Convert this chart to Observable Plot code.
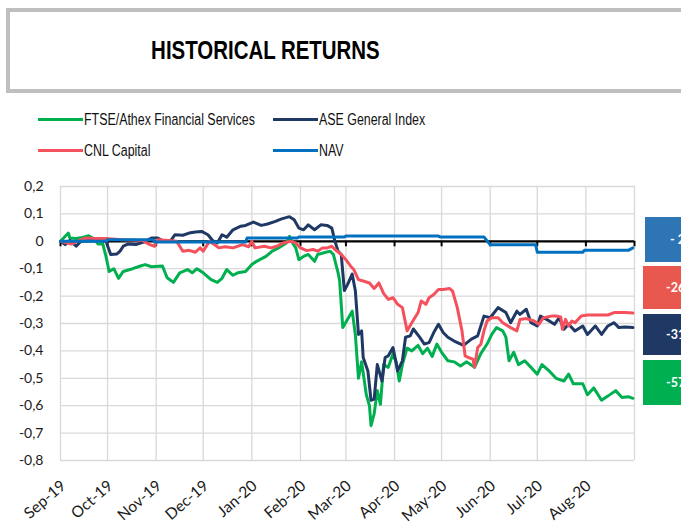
<!DOCTYPE html>
<html>
<head>
<meta charset="utf-8">
<script src="https://cdn.jsdelivr.net/npm/d3@7"></script>
<script src="https://cdn.jsdelivr.net/npm/@observablehq/plot@0.6"></script>
<style>
  html, body { margin: 0; padding: 0; background: #fff; }
  body { width: 681px; height: 523px; overflow: hidden; position: relative; }
  #head { position: relative; height: 170px; }
  #titlebox { position: absolute; left: 6px; top: 8px; width: 760px; height: 85px; box-sizing: border-box; border: 4px solid #bfbfbf; }
  #title { position: absolute; left: 0; width: 530px; top: 35px; text-align: center; font-family: "Liberation Sans", Arial, sans-serif; font-weight: bold; font-size: 26px; line-height: 30px; color: #000; }
  #title span { display: inline-block; transform: scaleX(0.786); transform-origin: center; }
  .lg-line { position: absolute; width: 45px; height: 3px; }
  .lg-text { position: absolute; font-family: "Liberation Sans", Arial, sans-serif; font-size: 16px; line-height: 18px; color: #111; white-space: nowrap; transform: scaleX(0.775); transform-origin: left center; }
  .box { position: absolute; width: 70px; box-sizing: border-box; color: #fff; font-family: Lato, "Open Sans", sans-serif; font-weight: bold; font-size: 12.5px; display: flex; align-items: center; white-space: nowrap; }
  #chart svg { display: block; }
</style>
</head>
<body>
<div id="head">
  <div id="titlebox"></div>
  <div id="title"><span>HISTORICAL RETURNS</span></div>
  <div id="legend"></div>
</div>
<div id="chart"></div>
<div id="boxes"></div>
<script>
// ---------- data ----------
const seriesNames = ["FTSE/Athex Financial Services", "ASE General Index", "CNL Capital", "NAV"];
const seriesColors = ["#00b050", "#203864", "#f4515c", "#0070c0"];

const ftseDates = ["2019-09-01","2019-09-06","2019-09-07","2019-09-11","2019-09-15","2019-09-19","2019-09-22","2019-09-25","2019-09-28","2019-09-30",
"2019-10-02","2019-10-05","2019-10-08","2019-10-11","2019-10-17","2019-10-22","2019-10-25","2019-10-29",
"2019-11-05","2019-11-08","2019-11-12","2019-11-16","2019-11-21","2019-11-24","2019-11-27",
"2019-12-01","2019-12-06","2019-12-10","2019-12-13","2019-12-16","2019-12-20","2019-12-23","2019-12-28",
"2020-01-01","2020-01-04","2020-01-10","2020-01-14","2020-01-18","2020-01-23","2020-01-25","2020-01-27","2020-01-29","2020-01-31",
"2020-02-03","2020-02-06","2020-02-10","2020-02-12","2020-02-16","2020-02-20","2020-02-22","2020-02-25","2020-02-26","2020-02-28",
"2020-03-02","2020-03-05","2020-03-07","2020-03-09","2020-03-11","2020-03-14","2020-03-16","2020-03-17","2020-03-19","2020-03-21","2020-03-23","2020-03-25","2020-03-28","2020-03-31",
"2020-04-02","2020-04-04","2020-04-06","2020-04-09","2020-04-12","2020-04-16","2020-04-19","2020-04-22","2020-04-25","2020-04-28",
"2020-05-01","2020-05-05","2020-05-09","2020-05-13","2020-05-17","2020-05-22","2020-05-26","2020-05-30",
"2020-06-02","2020-06-05","2020-06-09","2020-06-11","2020-06-13","2020-06-16","2020-06-19","2020-06-23","2020-06-27",
"2020-07-01","2020-07-04","2020-07-08","2020-07-13","2020-07-18","2020-07-21","2020-07-24","2020-07-30",
"2020-08-02","2020-08-06","2020-08-11","2020-08-15","2020-08-20","2020-08-24","2020-08-28","2020-08-31"];
const ftseValues = [0, 0.03, 0.012, 0.01, 0.014, 0.02, 0.01, -0.01, -0.01, -0.055,
-0.11, -0.10, -0.135, -0.11, -0.10, -0.09, -0.085, -0.093,
-0.09, -0.133, -0.15, -0.115, -0.103, -0.115, -0.10,
-0.115, -0.14, -0.15, -0.135, -0.103, -0.124, -0.115, -0.11,
-0.085, -0.073, -0.055, -0.036, -0.024, -0.006, 0.018, -0.006, -0.024, -0.067,
-0.055, -0.048, -0.073, -0.048, -0.042, -0.036, -0.048, -0.115, -0.145, -0.315,
-0.285, -0.255, -0.34, -0.50, -0.44, -0.56, -0.60, -0.673, -0.63, -0.545, -0.595, -0.45, -0.46, -0.41,
-0.44, -0.51, -0.45, -0.39, -0.40, -0.38, -0.41, -0.39, -0.42, -0.375,
-0.405, -0.436, -0.44, -0.455, -0.44, -0.46, -0.41, -0.375,
-0.34, -0.315, -0.327, -0.35, -0.436, -0.405, -0.45, -0.436, -0.46,
-0.485, -0.45, -0.47, -0.50, -0.51, -0.485, -0.52, -0.52,
-0.56, -0.535, -0.58, -0.565, -0.545, -0.57, -0.567, -0.573];

const aseDates = ["2019-09-01","2019-09-04","2019-09-07","2019-09-11","2019-09-14","2019-09-19","2019-09-25","2019-09-30",
"2019-10-03","2019-10-07","2019-10-09","2019-10-11","2019-10-14","2019-10-19","2019-10-24","2019-10-29",
"2019-11-02","2019-11-05","2019-11-10","2019-11-13","2019-11-18","2019-11-22","2019-11-26","2019-11-30",
"2019-12-04","2019-12-07","2019-12-10","2019-12-13","2019-12-16","2019-12-20","2019-12-25","2019-12-28",
"2020-01-02","2020-01-07","2020-01-11","2020-01-16","2020-01-20","2020-01-25","2020-01-28","2020-01-31",
"2020-02-03","2020-02-06","2020-02-10","2020-02-14","2020-02-18","2020-02-21","2020-02-23","2020-02-25","2020-02-27","2020-02-29",
"2020-03-02","2020-03-05","2020-03-07","2020-03-09","2020-03-11","2020-03-12","2020-03-15","2020-03-17","2020-03-19","2020-03-21","2020-03-24","2020-03-26","2020-03-28","2020-03-31",
"2020-04-03","2020-04-06","2020-04-08","2020-04-11","2020-04-13","2020-04-17","2020-04-20","2020-04-23","2020-04-26","2020-04-29",
"2020-05-02","2020-05-05","2020-05-09","2020-05-15","2020-05-20","2020-05-24","2020-05-28",
"2020-06-01","2020-06-06","2020-06-11","2020-06-14","2020-06-18","2020-06-20","2020-06-24","2020-06-27",
"2020-07-01","2020-07-03","2020-07-07","2020-07-12","2020-07-15","2020-07-18","2020-07-21","2020-07-25","2020-07-30",
"2020-08-02","2020-08-07","2020-08-11","2020-08-15","2020-08-19","2020-08-22","2020-08-26","2020-08-31"];
const aseValues = [0, -0.012, 0.003, -0.018, 0, 0.003, 0.003, 0,
-0.048, -0.046, -0.036, -0.018, -0.01, -0.012, -0.003, 0.012,
0.012, 0.003, 0, 0.024, 0.022, 0.03, 0.034, 0.036,
0.024, 0.003, -0.006, 0.024, 0.015, 0.042, 0.055, 0.058,
0.07, 0.058, 0.063, 0.073, 0.082, 0.09, 0.079, 0.048,
0.042, 0.06, 0.042, 0.06, 0.058, 0.048, 0, -0.036, -0.048, -0.18,
-0.158, -0.12, -0.18, -0.34, -0.327, -0.424, -0.473, -0.58, -0.576, -0.45, -0.51, -0.424, -0.418, -0.388,
-0.473, -0.436, -0.35, -0.345, -0.32, -0.35, -0.375, -0.37, -0.333, -0.303,
-0.333, -0.35, -0.364, -0.38, -0.357, -0.345, -0.273,
-0.279, -0.242, -0.26, -0.297, -0.255, -0.267, -0.248, -0.297,
-0.309, -0.273, -0.285, -0.303, -0.279, -0.321, -0.303, -0.327, -0.309,
-0.34, -0.309, -0.34, -0.309, -0.297, -0.315, -0.313, -0.315];

const cnlDates = ["2019-09-01","2019-09-08","2019-09-13","2019-09-17","2019-09-23","2019-09-30",
"2019-10-10","2019-10-23","2019-10-28","2019-10-31",
"2019-11-02","2019-11-09","2019-11-14","2019-11-18","2019-11-22","2019-11-26","2019-11-29",
"2019-12-01","2019-12-05","2019-12-08","2019-12-11","2019-12-15","2019-12-20","2019-12-26","2019-12-30",
"2020-01-01","2020-01-03","2020-01-09","2020-01-13","2020-01-17","2020-01-21","2020-01-26","2020-01-29",
"2020-02-01","2020-02-05","2020-02-09","2020-02-12","2020-02-15","2020-02-18","2020-02-21","2020-02-23","2020-02-27",
"2020-03-01","2020-03-04","2020-03-06","2020-03-09","2020-03-12","2020-03-16","2020-03-19","2020-03-22","2020-03-25","2020-03-28","2020-03-31",
"2020-04-03","2020-04-06","2020-04-09","2020-04-12","2020-04-16","2020-04-18","2020-04-21","2020-04-23","2020-04-26","2020-04-29",
"2020-05-02","2020-05-06","2020-05-08","2020-05-11","2020-05-14","2020-05-16","2020-05-18","2020-05-21","2020-05-22","2020-05-24","2020-05-26","2020-05-28","2020-05-30",
"2020-06-02","2020-06-06","2020-06-09","2020-06-14","2020-06-18","2020-06-20","2020-06-24","2020-06-29",
"2020-07-02","2020-07-05","2020-07-10","2020-07-13","2020-07-16","2020-07-17","2020-07-19","2020-07-21","2020-07-23","2020-07-25","2020-07-29",
"2020-08-02","2020-08-07","2020-08-15","2020-08-19","2020-08-26","2020-08-31"];
const cnlValues = [0, -0.01, 0.003, 0.012, 0.01, 0.01,
0.006, 0.003, -0.012, -0.018,
0.006, 0.003, 0, -0.036, -0.033, -0.04, -0.024,
-0.036, 0, -0.012, -0.024, -0.02, -0.024, -0.012, -0.02,
0, -0.024, -0.018, -0.024, -0.018, -0.006, 0, -0.006,
-0.024, -0.034, -0.03, -0.036, -0.024, -0.024, -0.018, -0.03, -0.048,
-0.067, -0.091, -0.103, -0.14, -0.145, -0.152, -0.172, -0.152, -0.19, -0.212, -0.206,
-0.23, -0.242, -0.327, -0.297, -0.26, -0.218, -0.23, -0.206, -0.194, -0.176,
-0.176, -0.172, -0.182, -0.242, -0.327, -0.418, -0.424, -0.43, -0.46, -0.388, -0.376, -0.327, -0.291,
-0.279, -0.279, -0.297, -0.315, -0.327, -0.285, -0.282, -0.291,
-0.303, -0.279, -0.273, -0.273, -0.276, -0.321, -0.285, -0.309, -0.291, -0.297, -0.273,
-0.269, -0.269, -0.269, -0.26, -0.26, -0.262];

const navDates = ["2019-09-01","2019-09-30","2019-10-01","2019-10-30","2019-10-31","2019-12-28","2019-12-29","2020-01-30","2020-01-31","2020-02-29","2020-03-01","2020-04-29","2020-04-30","2020-05-28","2020-06-01","2020-06-30","2020-07-01","2020-07-30","2020-07-31","2020-08-28","2020-08-31"];
const navValues = [0, 0, 0.006, 0.006, -0.003, -0.003, 0.012, 0.012, 0.016, 0.016, 0.019, 0.019, 0.016, 0.016, -0.013, -0.013, -0.04, -0.04, -0.033, -0.033, -0.024];

const monthStarts = ["2019-09-01","2019-10-01","2019-11-01","2019-12-01","2020-01-01","2020-02-01","2020-03-01","2020-04-01","2020-05-01","2020-06-01","2020-07-01","2020-08-01","2020-09-01"];
const xTickLabels = ["Sep-19","Oct-19","Nov-19","Dec-19","Jan-20","Feb-20","Mar-20","Apr-20","May-20","Jun-20","Jul-20","Aug-20"];
const yTicks = [0.2, 0.1, 0, -0.1, -0.2, -0.3, -0.4, -0.5, -0.6, -0.7, -0.8];
const yTickLabels = ["0,2", "0,1", "0", "-0,1", "-0,2", "-0,3", "-0,4", "-0,5", "-0,6", "-0,7", "-0,8"];

const boxLabels = ["- 2%", "-26%", "-31%", "-57%"];
const boxColors = ["#2e75b6", "#e8584e", "#1f3864", "#00b050"];

// ---------- build ----------
const parse = s => new Date(s + "T00:00:00Z");
const mk = (dates, vals, name) => dates.map((d, i) => ({date: parse(d), value: vals[i], series: name}));
const ftse = mk(ftseDates, ftseValues, seriesNames[0]);
const ase = mk(aseDates, aseValues, seriesNames[1]);
const cnl = mk(cnlDates, cnlValues, seriesNames[2]);
const nav = mk(navDates, navValues, seriesNames[3]);

const months = monthStarts.map(parse);
const xLabelMap = new Map(xTickLabels.map((l, i) => [+months[i], l]));
const yLabelMap = new Map(yTicks.map((t, i) => [t, yTickLabels[i]]));

// legend
const legend = document.getElementById("legend");
const lgPos = [[38, 119], [273, 119], [38, 150], [273, 150]];
seriesNames.forEach((name, i) => {
  const [lx, ly] = lgPos[i];
  const line = document.createElement("div");
  line.className = "lg-line";
  line.style.left = lx + "px"; line.style.top = (ly - 1.5) + "px";
  line.style.background = seriesColors[i];
  legend.appendChild(line);
  const t = document.createElement("div");
  t.className = "lg-text";
  t.style.left = (lx + 46) + "px"; t.style.top = (ly - 8) + "px";
  t.textContent = name;
  legend.appendChild(t);
});

const lineOpts = (i) => ({x: "date", y: "value", stroke: seriesColors[i], strokeWidth: 3, strokeLinejoin: "round", strokeLinecap: "round"});

const chart = Plot.plot({
  width: 681,
  height: 353,
  marginTop: 16,
  marginBottom: 63,
  marginLeft: 60,
  marginRight: 47,
  style: {fontFamily: "Lato, 'Open Sans', sans-serif", fontSize: "14px", color: "#1a1a1a", background: "transparent", overflow: "visible"},
  x: {type: "utc", domain: [months[0], months[months.length - 1]]},
  y: {domain: [-0.8, 0.2]},
  marks: [
    Plot.gridY(yTicks, {stroke: "#d9d9d9", strokeOpacity: 1, strokeWidth: 1.3}),
    Plot.gridX(months, {stroke: "#d9d9d9", strokeOpacity: 1, strokeWidth: 1.3}),
    Plot.axisY(yTicks, {tickSize: 0, tickPadding: 17, tickFormat: d => yLabelMap.get(d), fontSize: 14, label: null}),
    Plot.axisX(months.slice(0, 12), {tickSize: 0, tickPadding: 23, dx: 3, tickRotate: -41, tickFormat: d => xLabelMap.get(+d), fontSize: 15.5, label: null}),
    Plot.ruleY([0], {stroke: "#000", strokeWidth: 2.2}),
    Plot.ruleX(months, {x: d => d, y1: 0, y2: -0.02, stroke: "#000", strokeWidth: 2}),
    Plot.line(ftse, lineOpts(0)),
    Plot.line(ase, lineOpts(1)),
    Plot.line(cnl, lineOpts(2)),
    Plot.line(nav, lineOpts(3))
  ]
});
document.getElementById("chart").appendChild(chart);

// right-side value boxes
const boxes = document.getElementById("boxes");
const boxPos = [[645, 217, 45, 25], [643, 266, 43, 23], [643, 314, 41, 23], [643, 360, 45, 23]];
boxLabels.forEach((lab, i) => {
  const b = document.createElement("div");
  b.className = "box";
  const [bx, by, bh, pad] = boxPos[i];
  b.style.left = bx + "px"; b.style.top = by + "px"; b.style.height = bh + "px";
  b.style.paddingLeft = pad + "px";
  b.style.background = boxColors[i];
  b.textContent = lab;
  boxes.appendChild(b);
});
</script>
</body>
</html>
